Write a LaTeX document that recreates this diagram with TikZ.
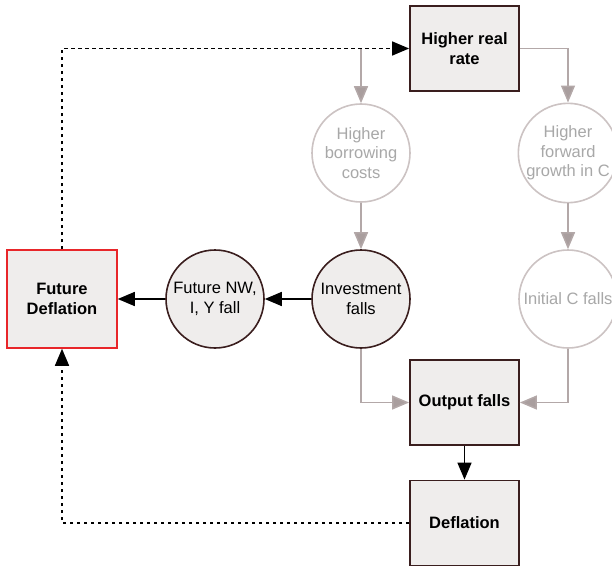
\documentclass[tikz,border=0pt]{standalone}
\usepackage{fontspec}
\setmainfont{Liberation Sans}
\usetikzlibrary{arrows.meta}
\definecolor{boxfill}{HTML}{EFEDEC}
\definecolor{boxdraw}{HTML}{3A1E1E}
\definecolor{greyline}{HTML}{B3A8A8}
\definecolor{greyhead}{HTML}{A99E9E}
\definecolor{greytext}{HTML}{A8A8A8}
\definecolor{greycirc}{HTML}{CCC3C3}
\definecolor{redb}{HTML}{E8262A}
\begin{document}
\begin{tikzpicture}[x=1pt,y=-1pt,
  stepbox/.style={draw=boxdraw, fill=boxfill, line width=1.8pt, minimum width=109pt, minimum height=85pt, inner sep=0pt, font=\fontsize{16.5}{19.5}\selectfont\bfseries, align=center},
  redbox/.style={draw=redb, fill=boxfill, line width=1.5pt, minimum width=110pt, minimum height=98pt, inner sep=0pt, font=\fontsize{16.5}{19.5}\selectfont\bfseries, align=center},
  darkcirc/.style={circle, draw=boxdraw, fill=boxfill, line width=1.6pt, minimum size=98pt, inner sep=0pt, font=\fontsize{16.5}{19.5}\selectfont, align=center},
  lightcirc/.style={circle, draw=greycirc, fill=white, line width=1.6pt, minimum size=98pt, inner sep=0pt, font=\fontsize{16.5}{19.5}\selectfont, text=greytext, align=center},
  greyarrow/.style={draw=greyline, line width=1.5pt, -{Triangle[length=17pt,width=14pt,fill=greyhead]}},
  blackarrow/.style={draw=black, line width=1.5pt, -{Triangle[length=17pt,width=14pt]}},
  dotline/.style={draw=black, line width=1.5pt, dash pattern=on 3.5pt off 3.5pt, -{Triangle[length=17pt,width=14pt]}}
]
\useasboundingbox (0,0) rectangle (612,567);
\node[stepbox] (hrr) at (464.5,48.5) {Higher real\\rate};
\node[lightcirc] (bc) at (361,153) {Higher\\borrowing\\costs};
\node[lightcirc] (fg) at (568,153) {Higher\\forward\\growth in C};
\node[darkcirc] (inv) at (361,299) {Investment\\falls};
\node[lightcirc] (ic) at (568,299) {Initial C falls};
\node[darkcirc] (fnw) at (215,299) {Future NW,\\I, Y fall};
\node[redbox] (fdef) at (62,299) {Future\\Deflation};
\node[stepbox] (out) at (464.5,402.5) {Output falls};
\node[stepbox] (defl) at (464.5,523) {Deflation};
\draw[greyarrow] (bc.north |- hrr.west) -- (bc.north);
\draw[greyarrow] (hrr.east) -| (fg.north);
\draw[greyarrow] (bc) -- (inv);
\draw[greyarrow] (fg) -- (ic);
\draw[greyarrow] (inv.south) |- (out.west);
\draw[greyarrow] (ic.south) |- (out.east);
\draw[dotline] (fdef.north) |- (hrr.west);
\draw[blackarrow] (inv) -- (fnw);
\draw[blackarrow] (fnw) -- (fdef);
\draw[blackarrow] (out) -- (defl);
\draw[dotline] (defl.west) -| (fdef.south);
\end{tikzpicture}
\end{document}
